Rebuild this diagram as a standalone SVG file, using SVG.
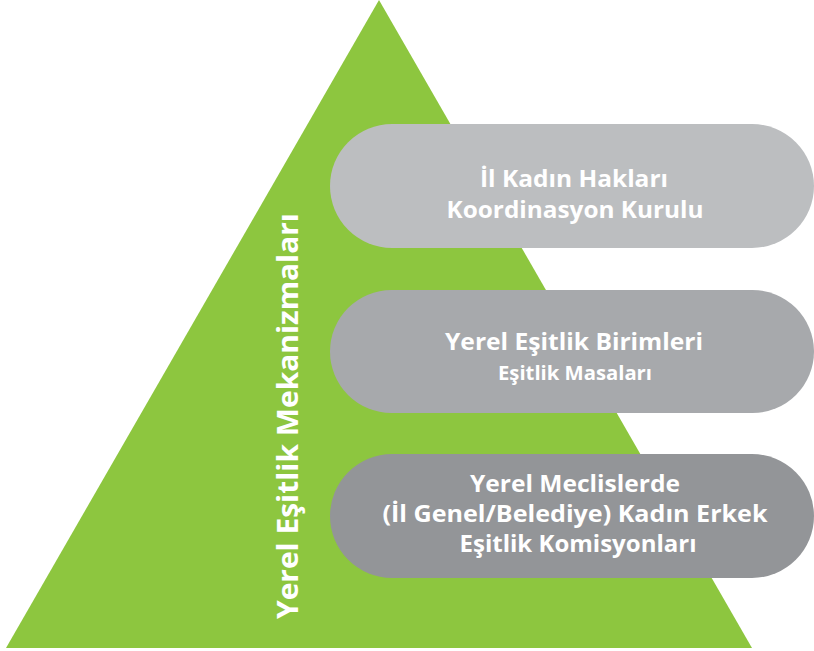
<svg xmlns="http://www.w3.org/2000/svg" width="814" height="651" viewBox="0 0 814 651">
<style>
.t{font-family:"Open Sans","Liberation Sans",sans-serif;font-weight:700;fill:#ffffff;text-anchor:middle}
.big{font-size:24px}
.small{font-size:19.5px}
</style>
<rect width="814" height="651" fill="#ffffff"/>
<g id="pyramid">
<polygon points="379,0 752,648 6,648" fill="#8dc63f"/>
<text class="t" transform="translate(298,416) rotate(-90)" font-size="29" textLength="406" lengthAdjust="spacingAndGlyphs">Yerel Eşitlik Mekanizmaları</text>
</g>
<g id="connectors"></g>
<g id="node1">
<rect x="330" y="124" width="484" height="124" rx="62" fill="#bcbec0"/>
<text class="t big" x="574" y="187" textLength="188" lengthAdjust="spacingAndGlyphs">İl Kadın Hakları</text>
<text class="t big" x="575" y="218" textLength="257" lengthAdjust="spacingAndGlyphs">Koordinasyon Kurulu</text>
</g>
<g id="node2">
<rect x="330" y="290" width="484" height="123" rx="61.5" fill="#a7a9ac"/>
<text class="t big" x="574" y="350" textLength="258" lengthAdjust="spacingAndGlyphs">Yerel Eşitlik Birimleri</text>
<text class="t small" x="575" y="380" textLength="154" lengthAdjust="spacingAndGlyphs">Eşitlik Masaları</text>
</g>
<g id="node3">
<rect x="330" y="454" width="484" height="124" rx="62" fill="#939598"/>
<text class="t big" x="575" y="492" textLength="210" lengthAdjust="spacingAndGlyphs">Yerel Meclislerde</text>
<text class="t big" x="575" y="522" textLength="385" lengthAdjust="spacingAndGlyphs">(İl Genel/Belediye) Kadın Erkek</text>
<text class="t big" x="578" y="552" textLength="237" lengthAdjust="spacingAndGlyphs">Eşitlik Komisyonları</text>
</g>
</svg>
